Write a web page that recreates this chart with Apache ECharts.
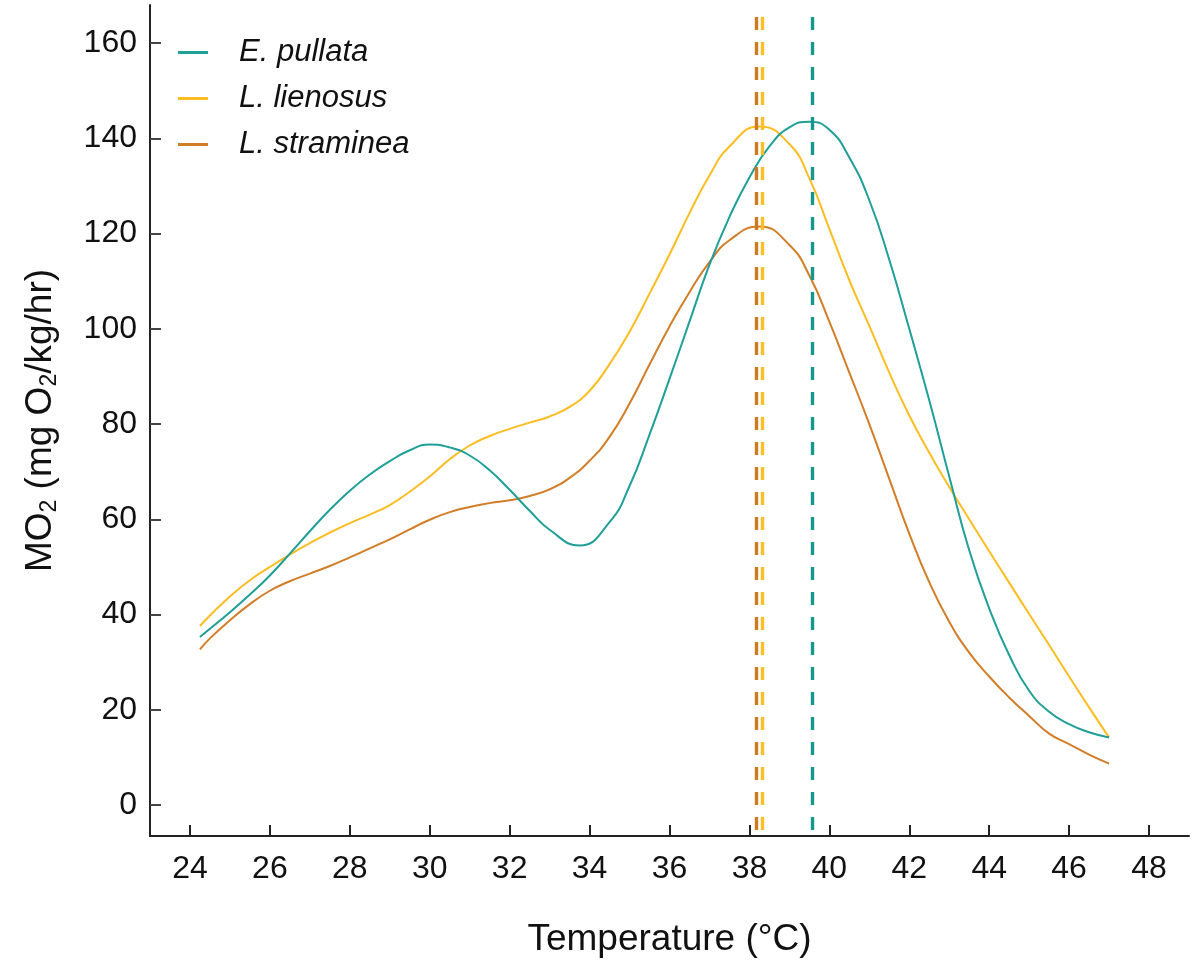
<!DOCTYPE html>
<html>
<head>
<meta charset="utf-8">
<script src="https://cdn.jsdelivr.net/npm/echarts@6/dist/echarts.min.js"></script>
<style>
  html, body { margin: 0; padding: 0; background: #fff; }
  #chart { width: 1201px; height: 963px; }
</style>
</head>
<body>
<div id="chart"></div>
<script>
// ---- Data ----
const speciesNames = ['E. pullata', 'L. lienosus', 'L. straminea'];

// E. pullata: temperatures (°C) and MO2 (mg O2/kg/hr)
const pullataTemps = [24.25, 24.5, 25, 25.5, 26, 26.5, 27, 27.5, 28, 28.5, 29, 29.5, 30, 30.5, 31, 31.5,
                      32, 32.5, 33, 33.75, 34.5, 35, 35.5, 36, 36.5, 37, 37.5, 38, 38.5, 39, 39.5,
                      40, 40.5, 41, 41.5, 42, 42.5, 43, 43.5, 44, 44.5, 45, 45.5, 46, 46.5, 47];
const pullataMO2 = [35.3, 37.0, 40.5, 44.2, 48.2, 52.8, 57.5, 62.0, 66.0, 69.4, 72.2, 74.5, 75.7, 75.1, 73.4, 70.3,
                    66.2, 61.8, 57.8, 54.5, 59.4, 67.0, 77.8, 89.5, 101.5, 113.5, 123.5, 131.8, 138.3, 142.3, 143.5,
                    141.8, 136.0, 127.0, 114.5, 100.0, 85.0, 69.0, 53.5, 41.3, 31.5, 24.0, 19.6, 17.0, 15.3, 14.2];

// L. lienosus
const lienosusTemps = [24.25, 24.5, 25, 25.5, 26, 26.5, 27, 27.5, 28, 28.5, 29, 29.5, 30, 30.5, 31, 31.5,
                       32, 32.5, 33, 33.5, 34, 34.5, 35, 35.5, 36, 36.5, 37, 37.5, 38.25, 39, 39.5,
                       40, 40.5, 41, 41.5, 42, 42.5, 43, 43.5, 44, 44.5, 45, 45.5, 46, 46.5, 47];
const lienosusMO2 = [37.6, 39.8, 43.8, 47.2, 50.0, 52.6, 55.0, 57.2, 59.2, 61.0, 63.0, 65.8, 69.0, 72.6, 75.5, 77.5,
                     79.0, 80.3, 81.6, 83.6, 87.0, 92.6, 99.4, 107.4, 115.6, 124.3, 132.2, 138.3, 142.5, 138.8, 131.6,
                     121.0, 110.2, 100.6, 90.8, 81.8, 74.0, 66.8, 60.0, 53.3, 46.7, 40.1, 33.6, 27.0, 20.5, 14.2];

// L. straminea
const stramineaTemps = [24.25, 24.5, 25, 25.5, 26, 26.5, 27, 27.5, 28, 28.5, 29, 29.5, 30, 30.5, 31, 31.5,
                        32, 32.5, 33, 33.5, 34, 34.5, 35, 35.5, 36, 36.5, 37, 37.5, 38.25, 39, 39.5,
                        40, 40.5, 41, 41.5, 42, 42.5, 43, 43.5, 44, 44.5, 45, 45.5, 46, 46.5, 47];
const stramineaMO2 = [32.7, 35.0, 38.8, 42.2, 45.0, 47.0, 48.6, 50.2, 52.0, 53.9, 55.8, 57.9, 59.9, 61.5, 62.6, 63.4,
                      64.0, 64.9, 66.3, 68.7, 72.3, 77.3, 84.3, 92.5, 100.5, 107.7, 114.0, 118.6, 121.5, 117.6, 111.2,
                      101.5, 90.8, 80.0, 68.5, 57.0, 46.8, 38.5, 32.0, 27.0, 22.6, 18.7, 15.0, 12.8, 10.6, 8.7];

// Temperatures of peak MO2 (dashed vertical lines)
const peakTemps = [39.58, 38.33, 38.17];

const xTicks = [24, 26, 28, 30, 32, 34, 36, 38, 40, 42, 44, 46, 48];
const yTicks = [0, 20, 40, 60, 80, 100, 120, 140, 160];

// ---- Styles ----
const lineColors = ['#1f9f97', '#fcbd22', '#d27e28'];
const dashColors = ['#17968e', '#fcbf28', '#cf7a20'];
const FONT = '"Liberation Sans", Arial, sans-serif';
const Y_MIN = -6.5, Y_MAX = 168;

function pairs(xs, ys) { return xs.map((x, i) => [x, ys[i]]); }
const seriesData = [
  pairs(pullataTemps, pullataMO2),
  pairs(lienosusTemps, lienosusMO2),
  pairs(stramineaTemps, stramineaMO2)
];

const series = speciesNames.map((name, i) => ({
  name: name,
  type: 'line',
  data: seriesData[i],
  smooth: 0.5,
  symbol: 'none',
  lineStyle: { color: lineColors[i], width: 2 },
  itemStyle: { color: lineColors[i] },
  z: 3 - i,
  animation: false,
  markLine: {
    silent: true,
    symbol: 'none',
    animation: false,
    label: { show: false },
    emphasis: { disabled: true },
    lineStyle: { color: dashColors[i], width: 3.4, type: [13, 12] },
    data: [[ { coord: [peakTemps[i], 165.5] }, { coord: [peakTemps[i], Y_MIN] } ]]
  }
}));

const chart = echarts.init(document.getElementById('chart'), null, { renderer: 'canvas' });
chart.setOption({
  backgroundColor: '#ffffff',
  animation: false,
  textStyle: { fontFamily: FONT },
  grid: { left: 150, right: 12, top: 5, bottom: 126, containLabel: false },
  legend: {
    orient: 'vertical',
    left: 178,
    top: 37,
    padding: 0,
    icon: 'rect',
    itemWidth: 30,
    itemHeight: 3,
    itemGap: 15,
    data: speciesNames,
    textStyle: { fontFamily: FONT, fontSize: 31, fontStyle: 'italic', color: '#111', lineHeight: 31, padding: [0, 0, 0, 26] }
  },
  xAxis: {
    type: 'value',
    min: 23,
    max: 49,
    name: 'Temperature (°C)',
    nameLocation: 'middle',
    nameGap: 85,
    nameTextStyle: { fontFamily: FONT, fontSize: 37, color: '#111' },
    axisLine: { show: true, onZero: false, lineStyle: { color: '#222', width: 2 } },
    axisTick: { show: true, inside: true, length: 11, customValues: xTicks, lineStyle: { color: '#222', width: 2 } },
    axisLabel: { customValues: xTicks, margin: 17, fontFamily: FONT, fontSize: 32, color: '#111' },
    splitLine: { show: false }
  },
  yAxis: {
    type: 'value',
    min: Y_MIN,
    max: Y_MAX,
    name: '{n|MO}{s|2}{n| (mg O}{s|2}{n|/kg/hr)}',
    nameLocation: 'middle',
    nameRotate: 90,
    nameGap: 89,
    nameTextStyle: {
      fontFamily: FONT, color: '#111',
      rich: {
        n: { fontFamily: FONT, fontSize: 37, color: '#111' },
        s: { fontFamily: FONT, fontSize: 23, color: '#111', verticalAlign: 'bottom', padding: [18, 0, 0, 0] }
      }
    },
    axisLine: { show: true, onZero: false, lineStyle: { color: '#222', width: 2 } },
    axisTick: { show: true, inside: true, length: 11, customValues: yTicks, lineStyle: { color: '#444', width: 2 } },
    axisLabel: { customValues: yTicks, margin: 13, fontFamily: FONT, fontSize: 32, color: '#111' },
    splitLine: { show: false }
  },
  series: series
});
</script>
</body>
</html>
